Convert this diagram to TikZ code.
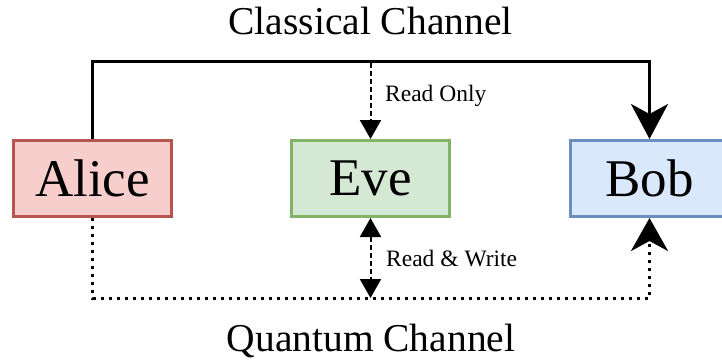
\documentclass[tikz,border=0pt]{standalone}
\usepackage{fontspec}
\setmainfont{Liberation Serif}
\usetikzlibrary{arrows.meta}
\definecolor{alicefill}{HTML}{F8CECC}
\definecolor{aliceline}{HTML}{B85450}
\definecolor{evefill}{HTML}{D5E8D4}
\definecolor{eveline}{HTML}{82B366}
\definecolor{bobfill}{HTML}{DAE8FC}
\definecolor{bobline}{HTML}{6C8EBF}
\tikzset{
  party/.style={draw, line width=3pt, minimum width=158pt, minimum height=76pt, inner sep=0pt,
    font=\fontsize{53}{60}\selectfont},
  title/.style={font=\fontsize{39.5}{44}\selectfont, inner sep=0pt},
  lbl/.style={font=\fontsize{23.5}{28}\selectfont, inner sep=0pt, anchor=west},
  classical/.style={line width=3pt, -{Stealth[length=35pt,width=37pt,inset=10pt]}},
  quantum/.style={line width=3pt, dash pattern=on 3pt off 5pt, -{Stealth[length=33pt,width=37pt,inset=10pt]}},
  eavesdrop/.style={line width=2pt, dash pattern=on 5pt off 3pt}
}
\begin{document}
\begin{tikzpicture}[x=1pt,y=-1pt]
\useasboundingbox[fill=white] (0,0) rectangle (722,362);
\node[party, fill=alicefill, draw=aliceline] (alice) at (92.5,178.5) {Alice};
\node[party, fill=evefill, draw=eveline] (eve) at (370.5,178.5) {Eve};
\node[party, fill=bobfill, draw=bobline] (bob) at (649.5,178.5) {Bob};
\coordinate (ctop) at (370.5,61);
\coordinate (ro) at (370.5,63);
\coordinate (qbot) at (370.5,298);
\draw[classical] (alice.north) |- (ctop) -| (bob.north);
\draw[quantum] (alice.south) |- (qbot) -| (bob.south);
\draw[eavesdrop, -{Triangle[length=19pt,width=21pt]}] (ro) -- (eve.north);
\draw[eavesdrop, {Triangle[length=19pt,width=21pt]}-{Triangle[length=19pt,width=21pt]}] (eve.south) -- (qbot);
\node[lbl] (rolbl) at (385,96) {Read Only};
\node[lbl] (rwlbl) at (386,259) {Read \& Write};
\node[title] (ctitle) at (370.5,21) {Classical Channel};
\node[title] (qtitle) at (371,341) {Quantum Channel};
\end{tikzpicture}
\end{document}
